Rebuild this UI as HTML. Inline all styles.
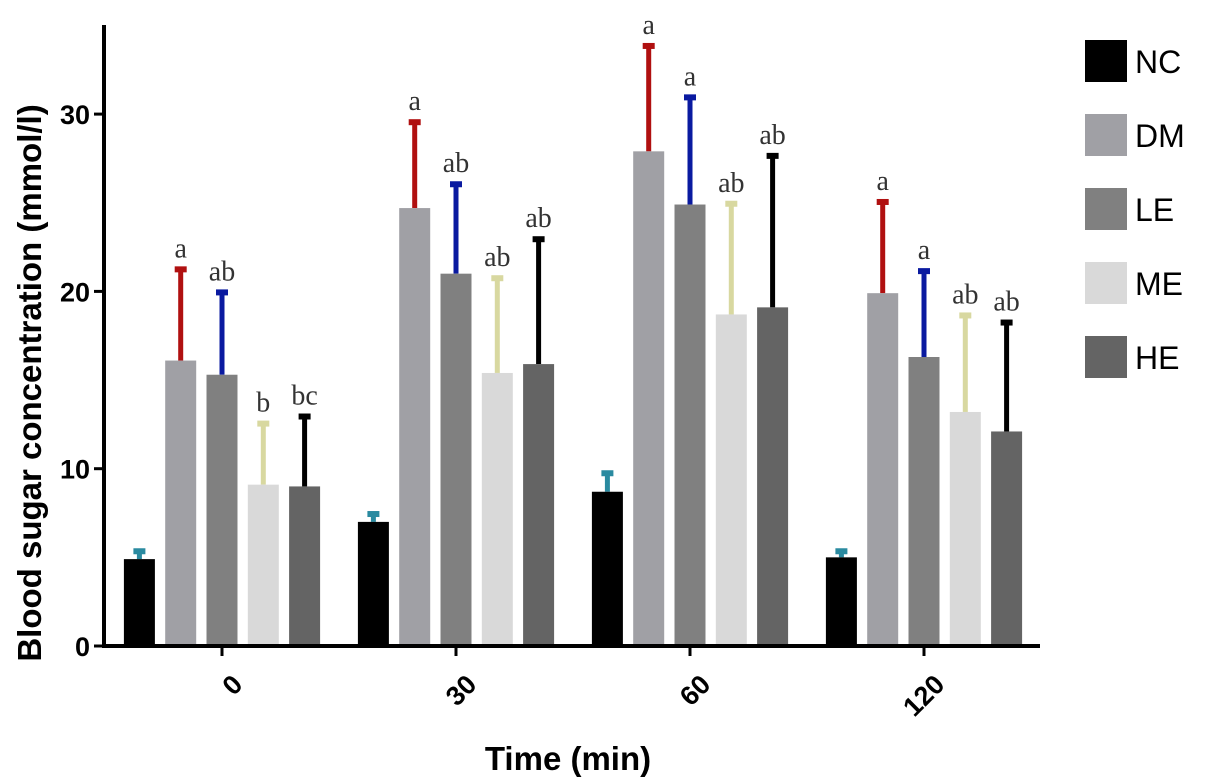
<!DOCTYPE html>
<html><head><meta charset="utf-8"><style>
body{margin:0;background:#fff;width:1205px;height:780px;overflow:hidden}
svg{display:block}
</style></head><body>
<svg id="chart" width="1205" height="780" xmlns="http://www.w3.org/2000/svg">
<g id="plot"></g>
<text transform="translate(41,383) rotate(-90)" text-anchor="middle" font-family="Liberation Sans, sans-serif" font-weight="bold" font-size="33">Blood sugar concentration (mmol/l)</text>
<text x="568" y="770" text-anchor="middle" font-family="Liberation Sans, sans-serif" font-weight="bold" font-size="33">Time (min)</text>
</svg>
<script>
const categories=["0","30","60","120"];
const series=["NC","DM","LE","ME","HE"];
const NC=[4.9,7.0,8.7,5.0];
const DM=[16.1,24.7,27.9,19.9];
const LE=[15.3,21.0,24.9,16.3];
const ME=[9.1,15.4,18.7,13.2];
const HE=[9.0,15.9,19.1,12.1];
const NCerr=[0.5,0.5,1.1,0.4];
const DMerr=[5.2,4.9,6.0,5.2];
const LEerr=[4.7,5.1,6.1,4.9];
const MEerr=[3.5,5.4,6.3,5.5];
const HEerr=[4.0,7.1,8.6,6.2];
const NClab=["","","",""];
const DMlab=["a","a","a","a"];
const LElab=["ab","ab","a","a"];
const MElab=["b","ab","ab","ab"];
const HElab=["bc","ab","ab","ab"];
const yTicks=[0,10,20,30];
const vals=[NC,DM,LE,ME,HE],errs=[NCerr,DMerr,LEerr,MEerr,HEerr],labs=[NClab,DMlab,LElab,MElab,HElab];
const fills=["#000000","#a0a0a5","#808080","#d9d9d9","#646464"];
const ecol=["#2a8aa0","#b01010","#0a1aa0","#d8d8a0","#000000"];
const NS="http://www.w3.org/2000/svg";
const g=document.getElementById('plot');
const y0=646,k=17.73;
function Y(v){return y0-v*k}
function X(ci,si){return 222+ci*234+(si-2)*41.3}
function mk(t,a){const e=document.createElementNS(NS,t);for(const n in a)e.setAttribute(n,a[n]);g.appendChild(e);return e}
categories.forEach((c,ci)=>{
  series.forEach((s,si)=>{
    const cx=X(ci,si),v=vals[si][ci],e=errs[si][ci];
    const top=Y(v+e);
    const el=mk('rect',{x:cx-2.5,y:top,width:5,height:Y(v)-top,fill:ecol[si]});
    
    
    const cap=mk('rect',{x:cx-6,y:top-2,width:12,height:6,fill:ecol[si]});
    
    
    const b=mk('rect',{x:cx-15.5,y:Y(v),width:31,height:y0-Y(v),fill:fills[si]});
    
    
    if(labs[si][ci]){
      const t=mk('text',{x:cx,y:top-11,'text-anchor':'middle','font-family':'Liberation Serif, serif','font-size':'28',fill:'#333'});
      t.textContent=labs[si][ci];
      
      
    }
  });
  const tk=mk('line',{x1:222+ci*234,x2:222+ci*234,y1:y0,y2:y0+10,stroke:'#000','stroke-width':3});
  
  
  const tx=222+ci*234+8,ty=y0+26;
  const tl=mk('text',{x:tx,y:ty,'text-anchor':'end','font-family':'Liberation Sans, sans-serif','font-weight':'bold','font-size':'27',transform:`rotate(-45 ${tx} ${ty})`,dy:'20'});
  tl.textContent=c;
  
  
});
const ya=mk('line',{x1:104,x2:104,y1:25,y2:y0+2,stroke:'#000','stroke-width':4});


const xa=mk('line',{x1:102,x2:1040,y1:y0,y2:y0,stroke:'#000','stroke-width':4});


yTicks.forEach(v=>{
  const l=mk('line',{x1:94,x2:104,y1:Y(v),y2:Y(v),stroke:'#000','stroke-width':3});
  
  
  const t=mk('text',{x:90,y:Y(v)+10,'text-anchor':'end','font-family':'Liberation Sans, sans-serif','font-weight':'bold','font-size':'27'});
  t.textContent=v;
  
  
});
series.forEach((s,si)=>{
  const yy=40+si*74;
  const r=mk('rect',{x:1085,y:yy,width:42,height:42,fill:fills[si]});
  
  
  const t=mk('text',{x:1135,y:yy+33,'font-family':'Liberation Sans, sans-serif','font-size':'32'});
  t.textContent=s;
  
  
});
</script>
</body></html>
